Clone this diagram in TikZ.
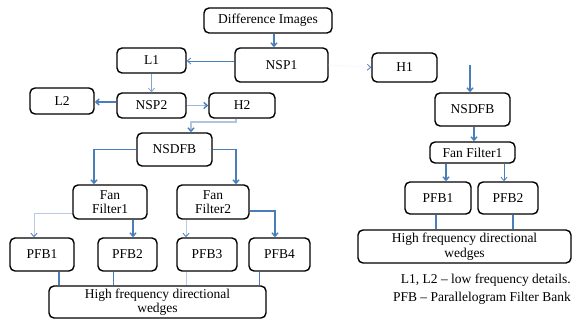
\documentclass[tikz,border=0pt]{standalone}
\usepackage{fontspec}
\setmainfont[Ligatures=TeX]{Liberation Serif}
\usetikzlibrary{arrows.meta,calc}
\definecolor{lnblue}{HTML}{4A7EBB}
\begin{document}
\begin{tikzpicture}[x=1pt,y=-1pt,
  box/.style={draw=black,line width=1.4pt,rounded corners=5pt,fill=white,inner sep=1pt,align=center,
    font=\rmfamily\fontsize{13.5}{14.5}\selectfont},
  conn/.style={draw=lnblue,line width=1.4pt},
  thinconn/.style={draw=lnblue!70,line width=0.8pt},
  arr/.style={-{Straight Barb[length=3.5pt,width=6pt]}},
  arrc/.style={-{Straight Barb[length=3.5pt,width=6pt,color=lnblue]}}
]
\useasboundingbox (0,0) rectangle (572,321);
% left tree
\node[box,minimum width=128pt,minimum height=25pt] (diff) at (268,20.5) {Difference Images};
\node[box,minimum width=93pt,minimum height=34pt] (nsp1) at (281.5,65) {NSP1};
\node[box,minimum width=69pt,minimum height=25pt] (l1) at (151.5,60.5) {L1};
\node[box,minimum width=64pt,minimum height=26pt] (l2) at (62,101) {L2};
\node[box,minimum width=69pt,minimum height=25pt] (nsp2) at (151.5,105.5) {NSP2};
\node[box,minimum width=66pt,minimum height=25pt] (h2) at (242,105.5) {H2};
\node[box,minimum width=75pt,minimum height=33pt] (nsdfbL) at (174.5,149.5) {NSDFB};
\node[box,minimum width=74pt,minimum height=34pt] (ff1) at (110,202) {Fan\\Filter1};
\node[box,minimum width=72pt,minimum height=34pt] (ff2) at (213,202) {Fan\\Filter2};
\node[box,minimum width=64pt,minimum height=33pt] (pfb1) at (42,254.5) {PFB1};
\node[box,minimum width=59pt,minimum height=33pt] (pfb2) at (127.5,254.5) {PFB2};
\node[box,minimum width=60pt,minimum height=33pt] (pfb3) at (207,254.5) {PFB3};
\node[box,minimum width=61pt,minimum height=33pt] (pfb4) at (279.5,254.5) {PFB4};
\node[box,minimum width=217pt,minimum height=32pt] (hfL) at (157.5,302) {High frequency directional\\wedges};
% right tree
\node[box,minimum width=65pt,minimum height=29pt] (h1) at (404.5,67.5) {H1};
\node[box,minimum width=75pt,minimum height=33pt] (nsdfbR) at (472.5,109.5) {NSDFB};
\node[box,minimum width=85pt,minimum height=21pt] (ffR) at (472.5,152.5) {Fan Filter1};
\node[box,minimum width=66pt,minimum height=32pt] (pfbR1) at (438,198) {PFB1};
\node[box,minimum width=60pt,minimum height=32pt] (pfbR2) at (508,198) {PFB2};
\node[box,minimum width=213pt,minimum height=33pt] (hfR) at (464.5,246.5) {High frequency directional\\wedges};
\node[anchor=east,align=right,inner sep=0pt,font=\rmfamily\fontsize{13.5}{18}\selectfont] (legend) at (571,289)
  {L1, L2 – low frequency details.\\PFB – Parallelogram Filter Bank};
\coordinate (hin) at (470,65);
% connectors
\draw[conn,arr] (diff.south -| 274,0) -- (nsp1.north -| 274,0);
\draw[thinconn,draw=lnblue,arr] (nsp1.west |- 0,61) -- (l1.east |- 0,61);
\draw[draw=lnblue!6,line width=0.8pt,arrc] (nsp1.east) -- (h1.west);
\draw[thinconn,arr] (l1.south) -- (nsp2.north);
\draw[conn,arr] (nsp2.west |- 0,102) -- (l2.east |- 0,102);
\draw[conn,draw=lnblue!55,arrc] (nsp2.east) -- (h2.west);
\draw[conn,draw=lnblue!45,arrc] (h2.south -| 236,0) |- (191,122) -- (nsdfbL.north -| 191,0);
\draw[conn,arr] (hin) -- (nsdfbR.north -| 470,0);
\draw[conn,arr] (nsdfbR.south -| 474,0) -- (ffR.north -| 474,0);
\draw[conn,arr] (ffR.south -| 446,0) -- (pfbR1.north -| 446,0);
\draw[thinconn,draw=lnblue,arr] (ffR.south -| 504,0) -- (pfbR2.north -| 504,0);
\draw[conn] (pfbR1.south -| 436,0) -- (hfR.north -| 436,0);
\draw[conn] (pfbR2.south -| 513,0) -- (hfR.north -| 513,0);
\draw[conn,arr] (nsdfbL.west) -| (ff1.north -| 94,0);
\draw[conn,arr] (nsdfbL.east) -| (ff2.north -| 236,0);
\draw[thinconn,draw=lnblue!40,arrc] (ff1.west |- 0,213) -| (pfb1.north -| 34,0);
\draw[conn,arr] (ff1.south -| 133,0) -- (pfb2.north -| 133,0);
\draw[thinconn,draw=lnblue!40,arrc] (ff2.south -| 186,0) -- (pfb3.north -| 186,0);
\draw[conn,arr] (ff2.east |- 0,211) -| (pfb4.north -| 275,0);
\draw[conn] (pfb1.south -| 59,0) -- (hfL.north -| 59,0);
\draw[thinconn,draw=lnblue] (pfb2.south -| 113,0) -- (hfL.north -| 113,0);
\draw[thinconn,draw=lnblue!40] (pfb3.south -| 186,0) -- (hfL.north -| 186,0);
\draw[thinconn,draw=lnblue] (pfb4.south -| 259,0) -- (hfL.north -| 259,0);
\end{tikzpicture}
\end{document}
